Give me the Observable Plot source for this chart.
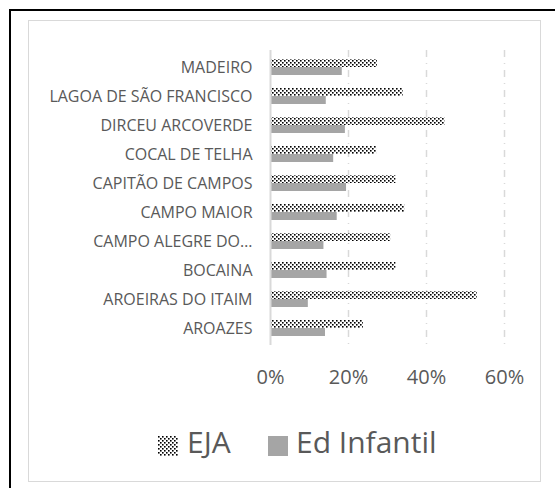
<!DOCTYPE html>
<html>
<head>
<meta charset="utf-8">
<script src="https://cdn.jsdelivr.net/npm/d3@7"></script>
<script src="https://cdn.jsdelivr.net/npm/@observablehq/plot@0.6"></script>
<style>
  html, body { margin: 0; padding: 0; background: #fff; width: 555px; height: 488px; overflow: hidden; }
  #outer { position: absolute; left: 8.5px; top: 9px; width: 546px; height: 479px; border-left: 2.5px solid #000; border-top: 2.5px solid #000; box-sizing: border-box; }
  #inner { position: absolute; left: 28px; top: 20px; width: 513px; height: 462px; border: 1.5px solid #d9d9d9; box-sizing: border-box; }
  #chart { position: absolute; left: 0; top: 0; }
  .leg { position: absolute; font-family: "Open Sans", sans-serif; font-size: 30px; line-height: 40px; color: #595959; white-space: nowrap; }
  .sw { position: absolute; width: 20px; height: 20px; }
</style>
</head>
<body>
<div id="outer"></div>
<div id="inner"></div>
<div id="chart"></div>
<svg class="sw" style="left:158px; top:436px;" width="20" height="20">
  <defs>
    <pattern id="ejaLeg" width="4" height="4" patternUnits="userSpaceOnUse">
      <rect width="4" height="4" fill="#fff"/>
      <rect x="0" y="0" width="1.6" height="1.6" fill="#000"/>
      <rect x="2" y="2" width="1.6" height="1.6" fill="#000"/>
    </pattern>
  </defs>
  <rect width="20" height="20" fill="url(#ejaLeg)"/>
</svg>
<span class="leg" style="left:187px; top:422px;">EJA</span>
<div class="sw" style="left:268px; top:436px; background:#a5a5a5;"></div>
<span class="leg" style="left:296px; top:422px;">Ed Infantil</span>
<script>
const names = [
  "MADEIRO",
  "LAGOA DE SÃO FRANCISCO",
  "DIRCEU ARCOVERDE",
  "COCAL DE TELHA",
  "CAPITÃO DE CAMPOS",
  "CAMPO MAIOR",
  "CAMPO ALEGRE DO…",
  "BOCAINA",
  "AROEIRAS DO ITAIM",
  "AROAZES"
];
const eja = [27.4, 34.0, 44.7, 27.2, 32.2, 34.4, 30.8, 32.2, 53.0, 23.8];
const edInfantil = [18.4, 14.3, 19.2, 16.2, 19.5, 17.1, 13.7, 14.5, 9.7, 14.1];
const xTicks = [0, 20, 40, 60];

const table = names.map((name, i) => ({name, eja: eja[i], ed: edInfantil[i]}));

const defs = () => {
  const g = d3.create("svg:defs");
  const p = g.append("pattern").attr("id", "ejaPat").attr("width", 4).attr("height", 4)
    .attr("patternUnits", "userSpaceOnUse");
  p.append("rect").attr("width", 4).attr("height", 4).attr("fill", "#fff");
  p.append("rect").attr("x", 0).attr("y", 0).attr("width", 1.6).attr("height", 1.6).attr("fill", "#000");
  p.append("rect").attr("x", 2).attr("y", 2).attr("width", 1.6).attr("height", 1.6).attr("fill", "#000");
  return g.node();
};

const chart = Plot.plot({
  width: 555,
  height: 400,
  marginLeft: 270,
  marginRight: 51,
  marginTop: 50,
  marginBottom: 55,
  style: {fontFamily: "'Open Sans', sans-serif", color: "#595959", background: "transparent"},
  x: {domain: [0, 60]},
  y: {domain: names, paddingInner: 0.458, paddingOuter: 0.229},
  marks: [
    defs,
    Plot.ruleX(xTicks.slice(1), {stroke: "#d9d9d9", strokeWidth: 1.5, strokeDasharray: "7,6,1,6"}),
    Plot.barX(table, {x: "eja", y: "name", fill: "url(#ejaPat)", insetBottom: 8}),
    Plot.barX(table, {x: "ed", y: "name", fill: "#a5a5a5", insetTop: 8}),
    Plot.ruleX([0], {stroke: "#d9d9d9", strokeWidth: 2}),
    Plot.axisX({ticks: xTicks, tickFormat: d => d + "%", tickSize: 0, tickPadding: 24, fontSize: 20, label: null}),
    Plot.axisY({tickSize: 0, tickPadding: 18, fontSize: 16, label: null})
  ]
});
document.getElementById("chart").appendChild(chart);
</script>
</body>
</html>
